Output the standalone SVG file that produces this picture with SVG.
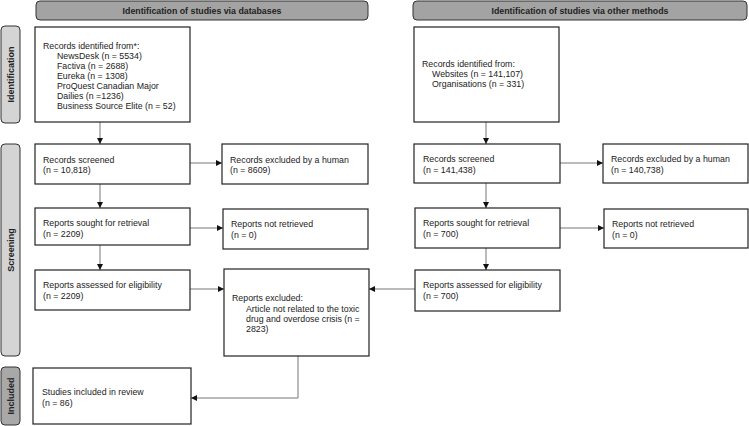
<svg xmlns="http://www.w3.org/2000/svg" width="749" height="426" viewBox="0 0 749 426">
<style>
text{font-family:"Liberation Sans",Arial,sans-serif;font-size:8.8px;fill:#222}
.hd{font-weight:bold;font-size:8.8px;text-anchor:middle}
.sd{font-weight:bold;font-size:9px;text-anchor:middle}
.box{fill:#fff;stroke:#222;stroke-width:1.2}
.hdr{fill:#a3a3a3;stroke:#333;stroke-width:1}
.side{fill:#d4d4d4;stroke:#333;stroke-width:1}
.side2{fill:#a8a8a8;stroke:#333;stroke-width:1}
.c{fill:none;stroke:#777;stroke-width:1}
</style>
<defs>
<marker id="ah" viewBox="0 0 10 10" refX="10" refY="5" markerWidth="6" markerHeight="6" orient="auto-start-reverse" markerUnits="userSpaceOnUse">
<path d="M0,0 L10,5 L0,10 z" fill="#111"/>
</marker>
</defs>
<g id="header-db"><rect class="hdr" x="36" y="1" width="332" height="19" rx="4"/><text class="hd" x="202" y="14">Identification of studies via databases</text></g>
<g id="header-other"><rect class="hdr" x="413" y="1" width="334" height="19" rx="4"/><text class="hd" x="580" y="14">Identification of studies via other methods</text></g>
<g id="side-identification"><rect class="side" x="1" y="26" width="19" height="97" rx="4"/><text class="sd" transform="translate(14 74.5) rotate(-90)">Identification</text></g>
<g id="side-screening"><rect class="side" x="1" y="144" width="19" height="212" rx="4"/><text class="sd" transform="translate(14 250) rotate(-90)">Screening</text></g>
<g id="side-included"><rect class="side2" x="1" y="367" width="19" height="58" rx="4"/><text class="sd" transform="translate(14 396) rotate(-90)">Included</text></g>

<g id="connectors">
<line class="c" x1="100" y1="122" x2="100" y2="144" marker-end="url(#ah)"/>
<line class="c" x1="100" y1="184" x2="100" y2="208" marker-end="url(#ah)"/>
<line class="c" x1="100" y1="245" x2="100" y2="270" marker-end="url(#ah)"/>
<line class="c" x1="190" y1="163" x2="222" y2="163" marker-end="url(#ah)"/>
<line class="c" x1="190" y1="228" x2="223" y2="228" marker-end="url(#ah)"/>
<line class="c" x1="190" y1="289" x2="224" y2="289" marker-end="url(#ah)"/>
<polyline class="c" points="298,356 298,398 191,398" marker-end="url(#ah)"/>
<line class="c" x1="486" y1="122" x2="486" y2="144" marker-end="url(#ah)"/>
<line class="c" x1="486" y1="183" x2="486" y2="208" marker-end="url(#ah)"/>
<line class="c" x1="486" y1="248" x2="486" y2="270" marker-end="url(#ah)"/>
<line class="c" x1="560" y1="163" x2="603" y2="163" marker-end="url(#ah)"/>
<line class="c" x1="560" y1="228" x2="604" y2="228" marker-end="url(#ah)"/>
<line class="c" x1="415" y1="289" x2="369" y2="289" marker-end="url(#ah)"/>
</g>

<g id="db-records"><rect class="box" x="35" y="27" width="155" height="95"/>
<text x="43" y="48.5">Records identified from*:</text>
<text x="57" y="58.5">NewsDesk (n = 5534)</text>
<text x="57" y="68.5">Factiva (n = 2688)</text>
<text x="57" y="78.5">Eureka (n = 1308)</text>
<text x="57" y="88.5">ProQuest Canadian Major</text>
<text x="57" y="98.5">Dailies (n =1236)</text>
<text x="57" y="108.5">Business Source Elite (n = 52)</text></g>
<g id="db-screened"><rect class="box" x="35" y="144" width="155" height="40"/><text x="43" y="162.5">Records screened</text><text x="43" y="173">(n = 10,818)</text></g>
<g id="db-excluded"><rect class="box" x="222" y="144" width="146" height="40"/><text x="230" y="162.5">Records excluded by a human</text><text x="230" y="173">(n = 8609)</text></g>
<g id="db-sought"><rect class="box" x="35" y="208" width="155" height="37"/><text x="43" y="226">Reports sought for retrieval</text><text x="43" y="237">(n = 2209)</text></g>
<g id="db-notretrieved"><rect class="box" x="223" y="209" width="145" height="40"/><text x="231" y="227">Reports not retrieved</text><text x="231" y="237.5">(n = 0)</text></g>
<g id="db-assessed"><rect class="box" x="35" y="270" width="155" height="40"/><text x="43" y="288">Reports assessed for eligibility</text><text x="43" y="299">(n = 2209)</text></g>
<g id="reports-excluded"><rect class="box" x="224" y="269" width="145" height="87"/>
<text x="232" y="301">Reports excluded:</text>
<text x="246" y="311.5">Article not related to the toxic</text>
<text x="246" y="321.5">drug and overdose crisis (n =</text>
<text x="246" y="331.5">2823)</text></g>
<g id="included"><rect class="box" x="33" y="368" width="158" height="56"/><text x="42" y="395">Studies included in review</text><text x="42" y="406">(n = 86)</text></g>

<g id="ot-records"><rect class="box" x="414" y="27" width="145" height="95"/>
<text x="422" y="67">Records identified from:</text>
<text x="432" y="77">Websites (n = 141,107)</text>
<text x="432" y="87">Organisations (n = 331)</text></g>
<g id="ot-screened"><rect class="box" x="414" y="144" width="146" height="39"/><text x="423" y="162">Records screened</text><text x="423" y="172.5">(n = 141,438)</text></g>
<g id="ot-excluded"><rect class="box" x="603" y="144" width="145" height="39"/><text x="611" y="162">Records excluded by a human</text><text x="611" y="172.5">(n = 140,738)</text></g>
<g id="ot-sought"><rect class="box" x="415" y="208" width="145" height="40"/><text x="423" y="226">Reports sought for retrieval</text><text x="423" y="237">(n = 700)</text></g>
<g id="ot-notretrieved"><rect class="box" x="604" y="209" width="144" height="39"/><text x="612" y="227">Reports not retrieved</text><text x="612" y="237.5">(n = 0)</text></g>
<g id="ot-assessed"><rect class="box" x="415" y="270" width="145" height="41"/><text x="423" y="288">Reports assessed for eligibility</text><text x="423" y="299">(n = 700)</text></g>
</svg>
